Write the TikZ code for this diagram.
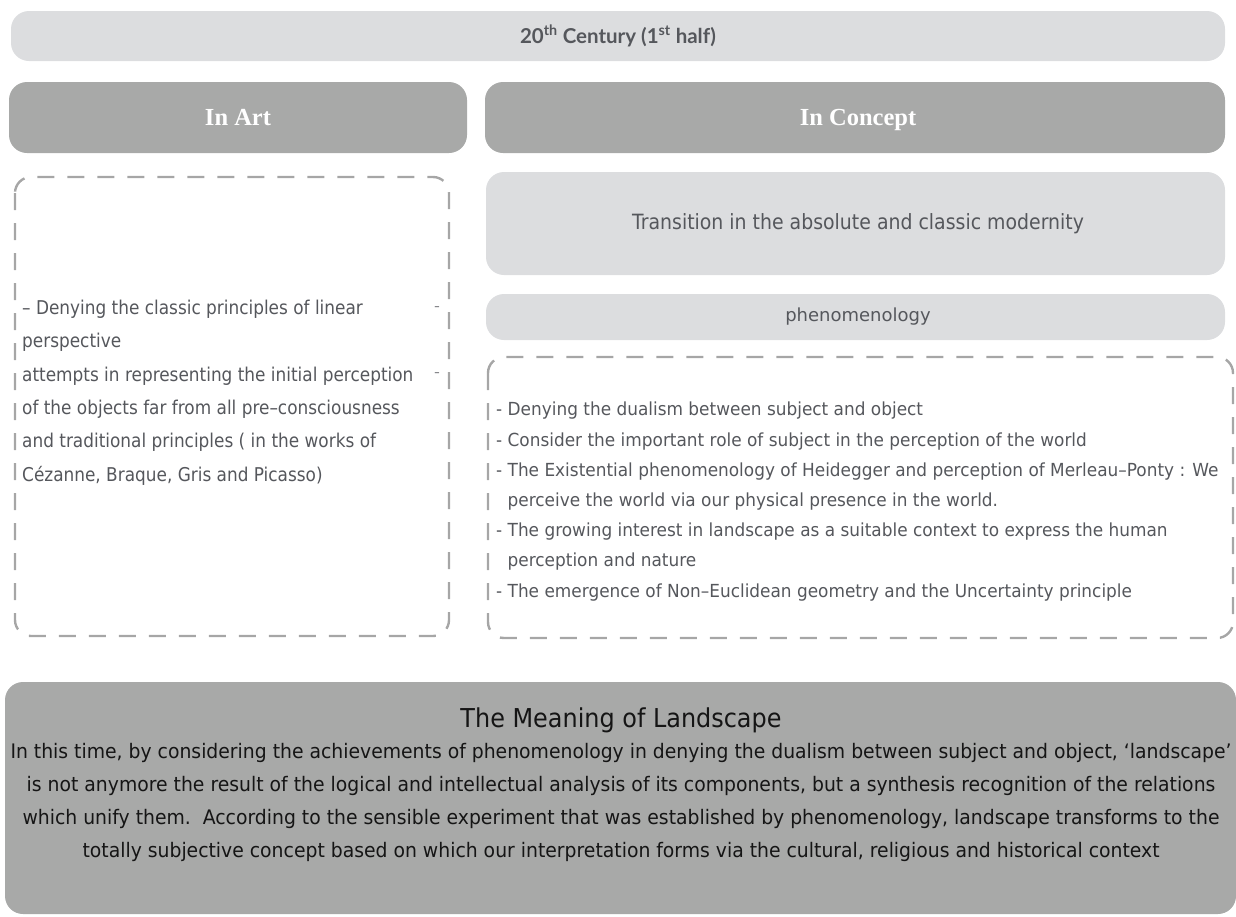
\documentclass[tikz,border=0pt]{standalone}
\usepackage{fontspec}
\setmainfont{DejaVu Sans}
\newfontfamily\headfont{Lato}
\newfontfamily\serifbold{Liberation Serif}
\newfontfamily\leftfont{DejaVu Sans}[FakeStretch=0.89]
\newfontfamily\rightfont{DejaVu Sans}[FakeStretch=0.94]
\newfontfamily\transfont{DejaVu Sans}[FakeStretch=0.90]
\newfontfamily\phenfont{DejaVu Sans}
\newfontfamily\titlefont{DejaVu Sans}[FakeStretch=0.92]
\newfontfamily\botfont{DejaVu Sans}[FakeStretch=0.94]
\definecolor{lightbar}{HTML}{DCDDDF}
\definecolor{midbar}{HTML}{A8A9A8}
\definecolor{dashcol}{HTML}{A6A6A6}
\definecolor{txtgray}{HTML}{55575C}
\definecolor{txtdark}{HTML}{151515}
\tikzset{
  lightbox/.style={fill=lightbar, draw=none, rounded corners=18pt},
  midbox/.style={fill=midbar, draw=none, rounded corners=18pt},
  dashbox/.style={draw=dashcol, line width=2.4pt, dash pattern=on 17pt off 13pt, rounded corners=16pt},
  headtxt/.style={font=\headfont\bfseries\fontsize{20.5}{24}\selectfont, text=txtgray},
  coltxt/.style={font=\serifbold\bfseries\fontsize{24.5}{28}\selectfont, text=white, anchor=base},
  lefttxt/.style={font=\leftfont\fontsize{19}{33.3}\selectfont, text=txtgray, align=left, anchor=north west, inner sep=0pt},
  righttxt/.style={font=\rightfont\fontsize{18}{30.2}\selectfont, text=txtgray, align=left, anchor=north west, inner sep=0pt},
  midtxt/.style={text=txtgray},
  bottitle/.style={font=\titlefont\fontsize{26}{30}\selectfont, text=txtdark, anchor=base},
  bottxt/.style={font=\botfont\fontsize{20}{33}\selectfont, text=txtdark, align=center, inner sep=0pt},
  tick/.style={font=\leftfont\fontsize{12}{12}\selectfont, text=txtgray, inner sep=0pt}
}
\begin{document}
\begin{tikzpicture}[x=1pt,y=-1pt]
\useasboundingbox (0,0) rectangle (1236,916);
% top bar
\draw[lightbox] (11,11) rectangle (1225,61);
\node[headtxt] (century) at (618,36) {20\textsuperscript{th} Century (1\textsuperscript{st} half)};
% column headers
\draw[midbox] (9,82) rectangle (467,153);
\node[coltxt] (art) at (238,125) {In Art};
\draw[midbox] (485,82) rectangle (1225,153);
\node[coltxt] (concept) at (858,125) {In Concept};
% left dashed box
\draw[dashbox] (15,177) rectangle (449,636);
\node[lefttxt] (artlist) at (22,300) {\textendash\ Denying the classic principles of linear\\
perspective\\
attempts in representing the initial perception\\
of the objects far from all pre\textendash consciousness\\
and traditional principles ( in the works of\\
C\'ezanne, Braque, Gris and Picasso)};
\node[tick] (tickA) at (437,309) {\textendash};
\node[tick] (tickB) at (437,375) {\textendash};
% right column boxes
\draw[lightbox] (486,172) rectangle (1225,275);
\node[midtxt, font=\transfont\fontsize{21}{25}\selectfont] (transition) at (858,224) {Transition in the absolute and classic modernity};
\draw[lightbox] (486,294) rectangle (1225,340);
\node[midtxt, font=\phenfont\fontsize{18}{22}\selectfont] (phen) at (858,317) {phenomenology};
% right dashed box
\draw[dashbox] (488,357) rectangle (1233,638);
\node[righttxt] (conceptlist) at (496,402) {-\ Denying the dualism between subject and object\\
-\ Consider the important role of subject in the perception of the world\\
-\ The Existential phenomenology of Heidegger and perception of Merleau\textendash Ponty : We\\
\phantom{-\ }perceive the world via our physical presence in the world.\\
-\ The growing interest in landscape as a suitable context to express the human\\
\phantom{-\ }perception and nature\\
-\ The emergence of Non\textendash Euclidean geometry and the Uncertainty principle};
% bottom box
\draw[midbox] (5,682) rectangle (1236,914);
\node[bottitle] (meaning) at (621,727) {The Meaning of Landscape};
\node[bottxt, anchor=north] (meaningtxt) at (621,743) {In this time, by considering the achievements of phenomenology in denying the dualism between subject and object, ‘landscape’\\
is not anymore the result of the logical and intellectual analysis of its components, but a synthesis recognition of the relations\\
which unify them.\ \ According to the sensible experiment that was established by phenomenology, landscape transforms to the\\
totally subjective concept based on which our interpretation forms via the cultural, religious and historical context};
\end{tikzpicture}
\end{document}
